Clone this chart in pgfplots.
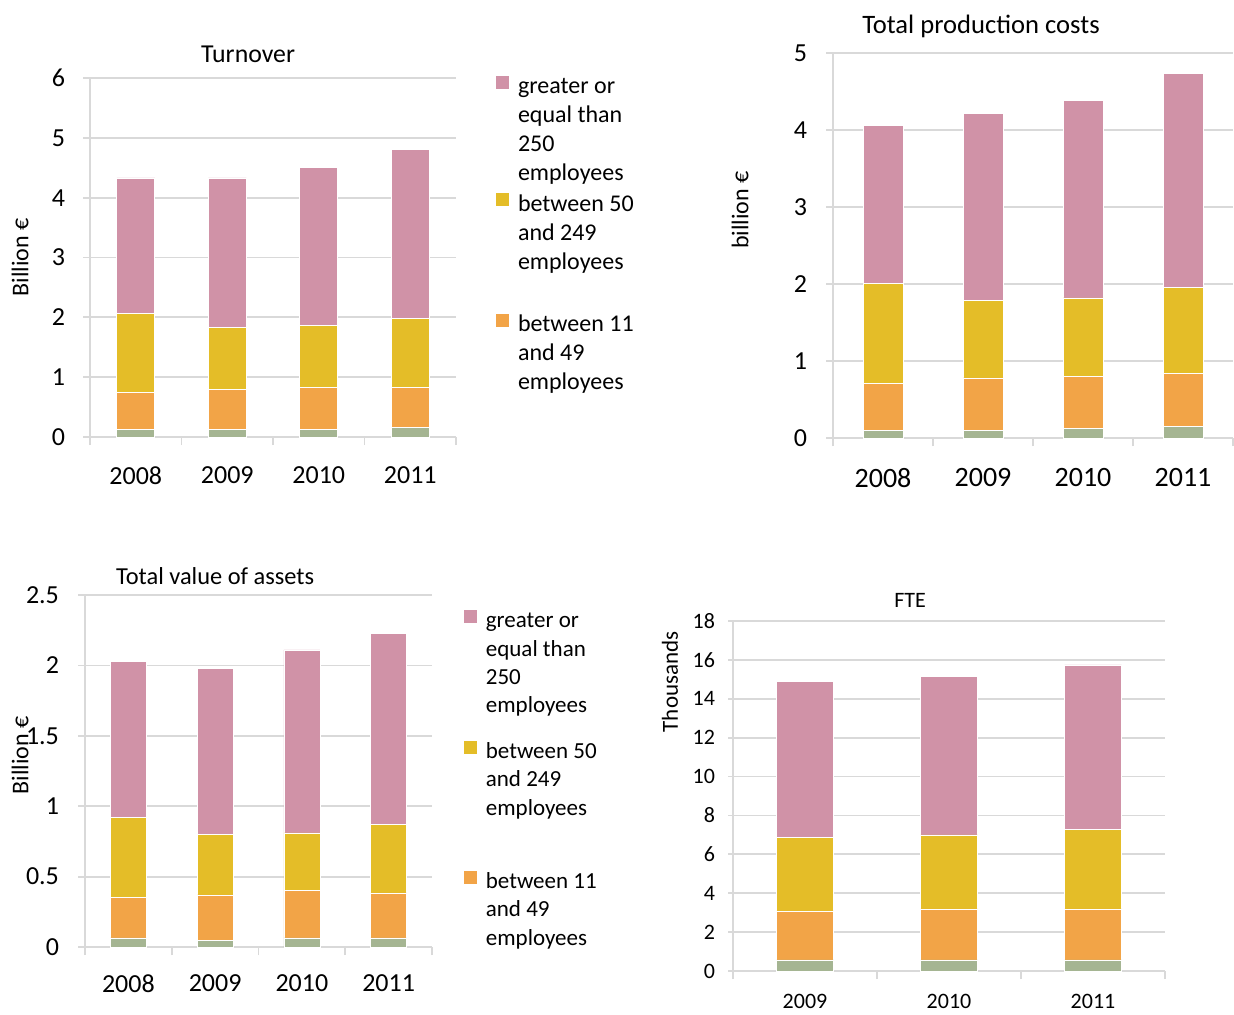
\documentclass[border=0pt]{standalone}
\usepackage{pgfplots}
\pgfplotsset{compat=1.18}
\usepackage{fontspec}
\setmainfont{Carlito}
\definecolor{pinkc}{HTML}{D092A7}
\definecolor{yelc}{HTML}{E4BD28}
\definecolor{orac}{HTML}{F2A447}
\definecolor{grnc}{HTML}{A5B592}
\definecolor{gridc}{HTML}{D9D9D9}
% legend line strut (height above baseline)
\newcommand{\st}[1]{\rule{0pt}{#1}}
\pgfplotsset{
  sqleg/.style={legend image code/.code={\fill[##1] (0pt,-3.5pt) rectangle (7pt,3.5pt);}},
  panel/.style={
    scale only axis, ybar stacked, ymin=0,
    axis lines=left, axis line style={-, draw=gridc, line width=0.9pt},
    ymajorgrids, grid style={draw=gridc, line width=0.9pt},
    tick align=outside, major tick length=3.5pt, minor tick length=4pt,
    major x tick style={draw=none},
    minor x tick style={draw=gridc, line width=0.9pt},
    ytick style={draw=gridc, line width=0.9pt},
    /pgf/number format/assume math mode=true,
    every axis plot/.append style={draw=white, line width=0.3pt},
    legend cell align=left,
    legend style={draw=none, fill=none, inner sep=0pt, row sep=0pt,
      column sep=4pt, nodes={inner sep=0pt}},
    title style={anchor=center, yshift=-6pt},
    ylabel style={anchor=center},
  },
}
\begin{document}
\begin{tikzpicture}
\useasboundingbox (0,0) rectangle (617pt,-507pt);

% ---- Turnover
\begin{axis}[panel, at={(45pt,-218.5pt)}, anchor=south west,
  width=183pt, height=179.5pt, ymax=6, ytick={0,1,...,6},
  xmin=-0.5, xmax=3.5, xtick={0,1,2,3}, xticklabels={2008,2009,2010,2011},
  minor xtick={-0.5,0.5,1.5,2.5,3.5}, bar width=19pt,
  tick label style={font=\fontsize{13}{15}\selectfont},
  xticklabel style={yshift=-8pt}, yticklabel style={xshift=-5.5pt},
  title={Turnover}, title style={at={(axis description cs:0.432,1.067)}, font=\fontsize{12.9}{15}\selectfont},
  ylabel={Billion €}, ylabel style={at={(axis description cs:-0.191,0.5)}, font=\fontsize{12}{14}\selectfont},
  legend style={at={(axis description cs:1.1066,1.029)}, anchor=north west, font=\fontsize{12}{14}\selectfont},
]
\addplot[fill=grnc, forget plot] coordinates {(0,0.125) (1,0.125) (2,0.125) (3,0.16)};
\addplot[fill=orac, forget plot] coordinates {(0,0.625) (1,0.665) (2,0.705) (3,0.67)};
\addplot[fill=yelc, forget plot] coordinates {(0,1.31) (1,1.04) (2,1.04) (3,1.15)};
\addplot[fill=pinkc, forget plot] coordinates {(0,2.27) (1,2.50) (2,2.64) (3,2.83)};
\addlegendimage{sqleg, fill=pinkc}\addlegendentry{\st{12.9pt}greater or}
\addlegendimage{empty legend}\addlegendentry{\st{12.9pt}equal than}
\addlegendimage{empty legend}\addlegendentry{\st{12.9pt}250}
\addlegendimage{empty legend}\addlegendentry{\st{12.9pt}employees}
\addlegendimage{sqleg, fill=yelc}\addlegendentry{\st{14.1pt}between 50}
\addlegendimage{empty legend}\addlegendentry{\st{12.9pt}and 249}
\addlegendimage{empty legend}\addlegendentry{\st{12.9pt}employees}
\addlegendimage{empty legend}\addlegendentry{\st{15.3pt}}
\addlegendimage{sqleg, fill=orac}\addlegendentry{\st{12.9pt}between 11}
\addlegendimage{empty legend}\addlegendentry{\st{12.9pt}and 49}
\addlegendimage{empty legend}\addlegendentry{\st{12.9pt}employees}
\end{axis}

% ---- Total production costs
\begin{axis}[panel, at={(416.5pt,-219pt)}, anchor=south west,
  width=200pt, height=192.5pt, ymax=5, ytick={0,1,...,5},
  xmin=-0.5, xmax=3.5, xtick={0,1,2,3}, xticklabels={2008,2009,2010,2011},
  minor xtick={-0.5,0.5,1.5,2.5,3.5}, bar width=20pt,
  yticklabel style={font=\fontsize{13}{15}\selectfont, xshift=-6pt},
  xticklabel style={font=\fontsize{14}{16}\selectfont, yshift=-8pt},
  title={Total production costs}, title style={at={(axis description cs:0.37,1.068)}, font=\fontsize{13.3}{15}\selectfont},
  ylabel={billion €}, ylabel style={at={(axis description cs:-0.2325,0.592)}, font=\fontsize{12}{14}\selectfont},
]
\addplot[fill=grnc] coordinates {(0,0.10) (1,0.10) (2,0.126) (3,0.156)};
\addplot[fill=orac] coordinates {(0,0.61) (1,0.68) (2,0.674) (3,0.684)};
\addplot[fill=yelc] coordinates {(0,1.30) (1,1.01) (2,1.02) (3,1.12)};
\addplot[fill=pinkc] coordinates {(0,2.05) (1,2.43) (2,2.56) (3,2.78)};
\end{axis}

% ---- Total value of assets
\begin{axis}[panel, at={(42.5pt,-473.5pt)}, anchor=south west,
  width=173.5pt, height=176pt, ymax=2.5, ytick={0,0.5,1,1.5,2,2.5},
  xmin=-0.5, xmax=3.5, xtick={0,1,2,3}, xticklabels={2008,2009,2010,2011},
  minor xtick={-0.5,0.5,1.5,2.5,3.5}, bar width=18pt,
  tick label style={font=\fontsize{13}{15}\selectfont},
  xticklabel style={yshift=-7pt}, yticklabel style={xshift=-6pt},
  title={Total value of assets}, title style={at={(axis description cs:0.375,1.054)}, font=\fontsize{12.2}{14}\selectfont},
  ylabel={Billion €}, ylabel style={at={(axis description cs:-0.187,0.545)}, font=\fontsize{12}{14}\selectfont},
  legend style={at={(axis description cs:1.089,0.9795)}, anchor=north west, font=\fontsize{11.5}{14}\selectfont},
]
\addplot[fill=grnc, forget plot] coordinates {(0,0.065) (1,0.047) (2,0.065) (3,0.065)};
\addplot[fill=orac, forget plot] coordinates {(0,0.285) (1,0.323) (2,0.335) (3,0.32)};
\addplot[fill=yelc, forget plot] coordinates {(0,0.57) (1,0.43) (2,0.41) (3,0.485)};
\addplot[fill=pinkc, forget plot] coordinates {(0,1.11) (1,1.18) (2,1.30) (3,1.36)};
\addlegendimage{sqleg, fill=pinkc}\addlegendentry{\st{12.65pt}greater or}
\addlegendimage{empty legend}\addlegendentry{\st{12.65pt}equal than}
\addlegendimage{empty legend}\addlegendentry{\st{12.65pt}250}
\addlegendimage{empty legend}\addlegendentry{\st{12.65pt}employees}
\addlegendimage{empty legend}\addlegendentry{\st{7.15pt}}
\addlegendimage{sqleg, fill=yelc}\addlegendentry{\st{12.65pt}between 50}
\addlegendimage{empty legend}\addlegendentry{\st{12.65pt}and 249}
\addlegendimage{empty legend}\addlegendentry{\st{12.65pt}employees}
\addlegendimage{empty legend}\addlegendentry{\st{21.15pt}}
\addlegendimage{sqleg, fill=orac}\addlegendentry{\st{12.65pt}between 11}
\addlegendimage{empty legend}\addlegendentry{\st{12.65pt}and 49}
\addlegendimage{empty legend}\addlegendentry{\st{12.65pt}employees}
\end{axis}

% ---- FTE
\begin{axis}[panel, at={(366.5pt,-485.5pt)}, anchor=south west,
  width=216pt, height=175pt, ymax=18, ytick={0,2,...,18},
  xmin=-0.5, xmax=2.5, xtick={0,1,2}, xticklabels={2009,2010,2011},
  minor xtick={-0.5,0.5,1.5,2.5}, bar width=28.5pt, major tick length=2.5pt,
  tick label style={font=\fontsize{11}{13}\selectfont},
  xticklabel style={yshift=-5.5pt}, yticklabel style={xshift=-3pt},
  title={FTE}, title style={at={(axis description cs:0.41,1.06)}, font=\fontsize{11}{13}\selectfont},
  ylabel={Thousands}, ylabel style={at={(axis description cs:-0.146,0.826)}, font=\fontsize{11.5}{14}\selectfont},
]
\addplot[fill=grnc] coordinates {(0,0.57) (1,0.57) (2,0.57)};
\addplot[fill=orac] coordinates {(0,2.52) (1,2.62) (2,2.62)};
\addplot[fill=yelc] coordinates {(0,3.80) (1,3.81) (2,4.11)};
\addplot[fill=pinkc] coordinates {(0,8.01) (1,8.17) (2,8.44)};
\end{axis}
\end{tikzpicture}
\end{document}
